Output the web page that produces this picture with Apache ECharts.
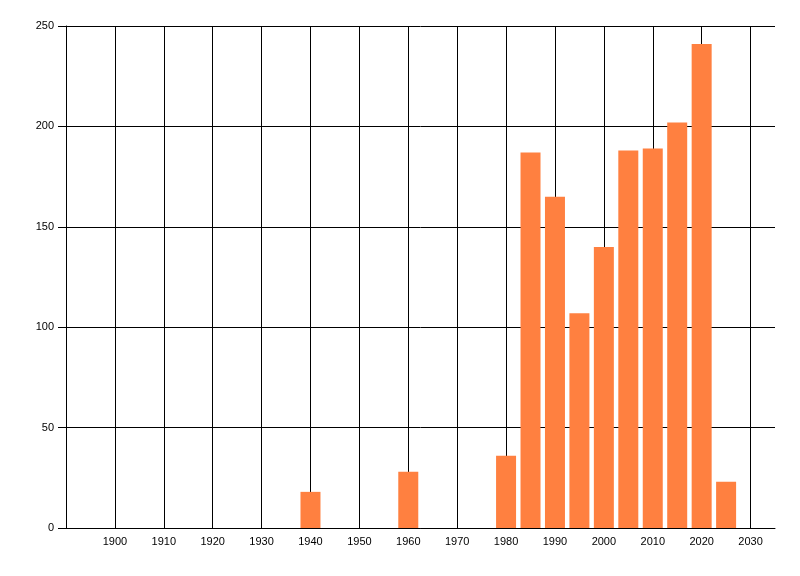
<!DOCTYPE html>
<html>
<head>
    <meta charset="UTF-8">
    <title>bar chart</title>
    <script src="https://cdn.jsdelivr.net/npm/echarts@6/dist/echarts.min.js"></script>
    <style>
        html, body { margin: 0; padding: 0; background: #fff; }
        #main { width: 800px; height: 576px; }
    </style>
</head>
<body>
    <div id="main"></div>
    <script type="text/javascript">
        // years and counts
        var years = [1940, 1960, 1980, 1985, 1990, 1995, 2000, 2005, 2010, 2015, 2020, 2025];
        var counts = [18, 28, 36, 187, 165, 107, 140, 188, 189, 202, 241, 23];
        var yTicks = [0, 50, 100, 150, 200, 250];

        var points = [];
        for (var i = 0; i < years.length; i++) {
            points.push([years[i], counts[i]]);
        }

        var myChart = echarts.init(document.getElementById('main'));

        var option = {
            animation: false,
            grid: {
                left: 66,
                right: 25,
                top: 26,
                bottom: 48
            },
            xAxis: {
                type: 'value',
                min: 1890,
                max: 2035,
                interval: 10,
                axisLine: { show: true, onZero: false, lineStyle: { color: '#000', width: 1 } },
                axisTick: { show: false },
                axisLabel: {
                    showMinLabel: false,
                    showMaxLabel: false,
                    margin: 8,
                    color: '#000',
                    fontFamily: 'Liberation Sans',
                    fontSize: 11,
                    // plain years, no thousands separator
                    formatter: function (v) { return String(v); }
                },
                splitLine: {
                    show: true,
                    showMaxLine: false,
                    lineStyle: { color: '#000', width: 1 }
                }
            },
            yAxis: {
                type: 'value',
                min: yTicks[0],
                max: yTicks[yTicks.length - 1],
                interval: 50,
                axisLine: { show: true, lineStyle: { color: '#000', width: 1 } },
                axisTick: { show: true, length: 8, lineStyle: { color: '#000' } },
                axisLabel: {
                    margin: 12,
                    color: '#000',
                    fontFamily: 'Liberation Sans',
                    fontSize: 11
                },
                splitLine: { show: true, lineStyle: { color: '#000', width: 1 } }
            },
            series: [{
                type: 'bar',
                data: points,
                barWidth: 20,
                itemStyle: { color: '#FF8040' }
            }]
        };

        myChart.setOption(option);
    </script>
</body>
</html>
